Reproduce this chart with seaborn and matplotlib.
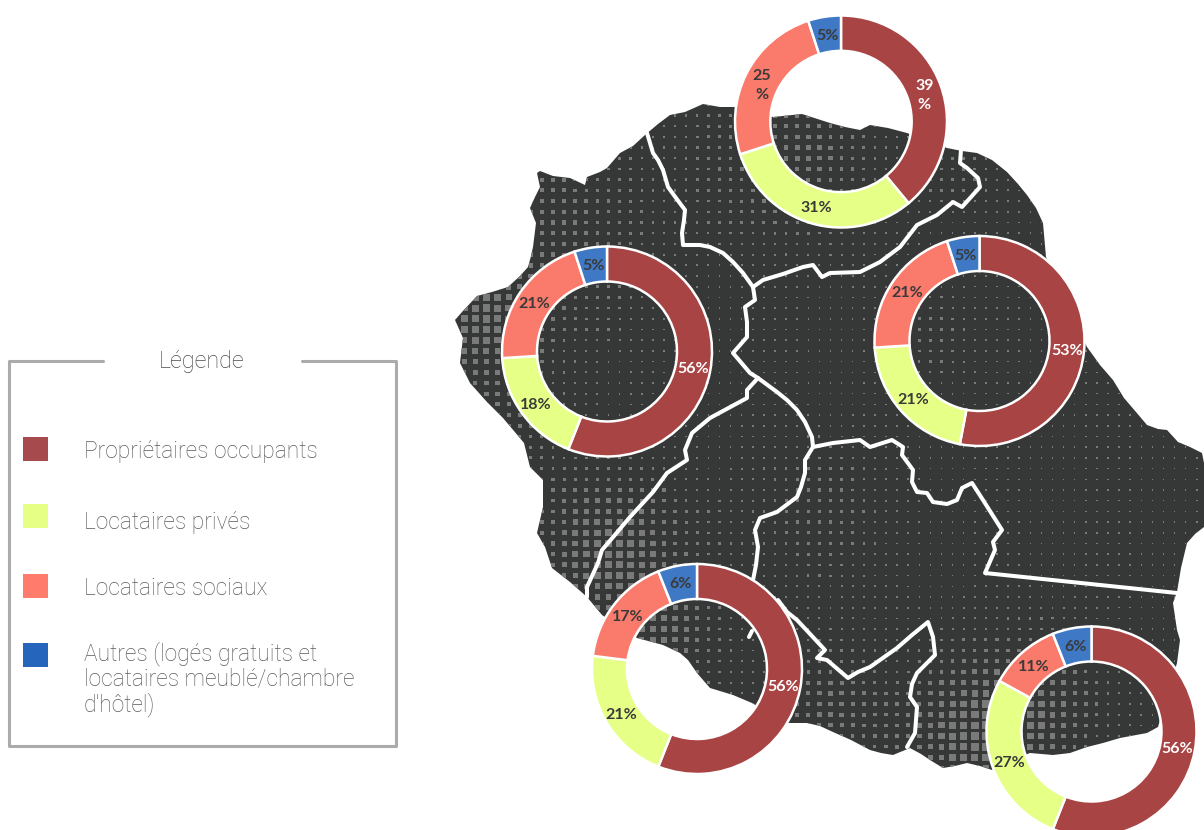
import numpy as np
import pandas as pd
import seaborn as sns
import matplotlib
matplotlib.use("Agg")
import matplotlib.pyplot as plt
from matplotlib.patches import Polygon, Rectangle

sns.set_theme(style="white")
plt.rcParams['font.family'] = ['Lato', 'DejaVu Sans']

W, H = 1204, 830

# donut values, clockwise from the top
categories = ["Propriétaires occupants", "Locataires privés", "Locataires sociaux",
              "Autres (logés gratuits et\nlocataires meublé/chambre\nd'hôtel)"]
north = [39, 31, 25, 5]
west = [56, 18, 21, 5]
east = [53, 21, 21, 5]
south_west = [56, 21, 17, 6]
south_east = [56, 27, 11, 6]

donut_colors = sns.color_palette(["#A94444", "#E6FF86", "#FA7A6B", "#3F78C4"])
legend_colors = sns.color_palette(["#A74A4D", "#E6FF85", "#FF7B6C", "#2566BC"])

# map background, traced in pixels
coast = [(455,320),(462,312),(477,296),(492,292),(508,287),(520,276),(528,267),(531,256),(533,247),(536,223),
         (530,208),(535,197),(540,187),(537,173),(540,171),(553,176),(570,178),(585,185),(587,177),(600,172),
         (607,168),(620,153),(633,146),(645,135),(658,124),(670,115),(685,112),(703,104),(720,107),(737,107),
         (773,117),(802,114),(830,123),(845,127),(860,130),(870,125),(888,128),(907,133),(947,148),(962,151),
         (977,153),(992,160),(1007,172),(1018,184),(1027,195),(1036,208),(1043,223),(1046,257),(1087,347),
         (1100,365),(1113,380),(1124,398),(1136,412),(1147,425),(1158,429),(1167,430),(1178,442),(1190,447),
         (1202,453),(1204,463),(1204,527),(1195,534),(1187,543),(1181,568),(1177,592),(1173,603),(1177,630),
         (1180,640),(1177,663),(1158,727),(1147,733),(1120,738),(1103,743),(1087,747),(1070,753),(1053,755),
         (1030,753),(1010,761),(992,770),(980,766),(967,763),(955,766),(943,768),(930,760),(921,754),(910,748),
         (893,755),(881,753),(870,750),(851,740),(833,732),(820,726),(807,723),(787,723),(752,703),(733,695),
         (710,688),(703,680),(697,673),(688,660),(680,653),(663,645),(637,638),(602,615),(587,597),(570,582),
         (552,568),(545,547),(537,533),(543,507),(543,480),(530,467),(524,443),(514,431),(503,418),(487,402),
         (470,383),(460,363),(463,338)]

borders = [
    [(647,133),(653,153),(658,160),(663,170),(668,187),(676,198),(685,210),(684,220),(682,233),(683,245),
     (700,245),(710,247),(723,253),(733,262),(743,273),(753,287),(755,300),(745,307),(747,322),(747,337),
     (733,353),(750,373),(758,378),(777,392),(787,400),(797,410),(805,422),(812,437),(813,447),(805,460),
     (805,473),(801,487),(797,497),(777,512),(760,518),(755,530),(758,547),(756,565),(753,580)],
    [(778,600),(787,612),(797,620),(811,635),(825,650),(817,658),(827,660),(848,678),(858,672),(870,667),
     (880,660),(897,648),(912,635),(928,622),(933,637),(935,655),(917,673),(912,684),(910,697),(917,707),
     (915,733),(907,747)],
    [(758,378),(747,390),(747,398),(710,418),(692,433),(685,450),(687,460),(667,473),(653,492),(630,517),
     (614,536),(602,550),(598,563),(587,587),(587,597)],
    [(753,287),(763,280),(783,274),(803,267),(813,265),(822,277),(830,273),(860,272),(880,262),(900,247),
     (917,225),(937,215),(953,202),(962,207),(971,197),(980,187),(978,178),(967,168),(960,163),(961,150)],
    [(813,447),(833,443),(860,440),(870,447),(892,440),(903,447),(902,455),(913,470),(912,482),(917,492),
     (927,493),(933,502),(947,504),(957,500),(962,488),(972,483),(983,500),(1002,530),(993,542),(995,550),
     (985,573),(1177,593)],
    [(752,631),(749,637)],
]

# where the halftone squares get big: x, y, size, spread
hot_spots = [(610,550,5.5,50),(665,635,3.5,35),(480,320,5,38),(545,225,2.8,70),(790,150,3.2,60),(500,420,2.3,45),
             (975,735,5.5,50),(1040,700,3,45),(825,705,3,40),(815,510,2,45),(930,335,1.5,28),(965,165,1.5,30)]


def halftone():
    xs, ys = np.meshgrid(np.arange(553 - 11.1 * 10, W, 11.1), np.arange(490 - 10.7 * 40, H, 10.7))
    side = np.full(xs.shape, 1.5)
    for x, y, size, spread in hot_spots:
        side += size * np.exp(-((xs - x) ** 2 + (ys - y) ** 2) / (2 * spread ** 2))
    return pd.DataFrame({"x": xs.ravel(), "y": ys.ravel(), "side": np.minimum(side, 8).ravel()})


def draw_donut(fig, values, cx, cy, r=105, wrapped=False):
    pad = 1.1
    ax = fig.add_axes([(cx - r * pad) / W, 1 - (cy + r * pad) / H, 2 * r * pad / W, 2 * r * pad / H])
    wedges, texts, labels = ax.pie(values, colors=donut_colors, startangle=90, counterclock=False, radius=1,
                                   autopct='%.0f%%', pctdistance=0.835,
                                   wedgeprops={'width': 1 / 3, 'edgecolor': 'white', 'linewidth': 1.8})
    ax.set_xlim(-pad, pad)
    ax.set_ylim(-pad, pad)
    for i, label in enumerate(labels):
        label.set(color='white' if i == 0 else '#3A3A3A', fontsize=11.5, fontweight='bold', va='center_baseline')
        # excel wrapped the two wide labels of the northern donut
        if wrapped and i in (0, 2):
            label.set_text(label.get_text().replace('%', '\n%'))
            label.set_linespacing(1.45)


def main():
    fig = plt.figure(figsize=(W / 100, H / 100), dpi=100)
    ax = fig.add_axes([0, 0, 1, 1])

    land = Polygon(coast, closed=True, facecolor='#363837', edgecolor='none')
    ax.add_patch(land)
    dots = halftone()
    sns.scatterplot(data=dots, x="x", y="y", marker='s', color='#7A7A7A', linewidth=0,
                    s=(dots["side"] * 0.72) ** 2, legend=False, ax=ax)
    ax.collections[-1].set_clip_path(land)
    for border in borders:
        bx, by = zip(*border)
        ax.plot(bx, by, color='white', linewidth=2.9, solid_joinstyle='round', solid_capstyle='round')

    # legend frame, open around its title
    ax.plot([103, 9, 9, 396, 396, 302], [361, 361, 746, 746, 361, 361], color='#ABABAB', linewidth=2.2)
    ax.text(202, 361, "Légende", ha='center', va='center', family='Roboto', fontsize=16.8, fontweight='light',
            color='#4A4A4A')
    swatch_y = [437, 504, 574, 643]
    text_y = [451, 522, 588, 679]
    for name, color, sy, ty in zip(categories, legend_colors, swatch_y, text_y):
        ax.add_patch(Rectangle((23, sy), 25, 24, facecolor=color, edgecolor='none'))
        ax.text(84, ty, name, ha='left', va='center', family='Roboto', fontsize=16.4, fontweight='light',
                color='#5A5A5A', linespacing=1.1)

    ax.set_xlim(0, W)
    ax.set_ylim(H, 0)
    ax.axis('off')

    draw_donut(fig, north, 841, 121.5, r=106, wrapped=True)
    draw_donut(fig, west, 607, 351.5)
    draw_donut(fig, east, 979.5, 341)
    draw_donut(fig, south_west, 697, 669)
    draw_donut(fig, south_east, 1091.5, 731.5)

    fig.savefig("out.png", dpi=100)
    plt.close(fig)


if __name__ == '__main__':
    main()
